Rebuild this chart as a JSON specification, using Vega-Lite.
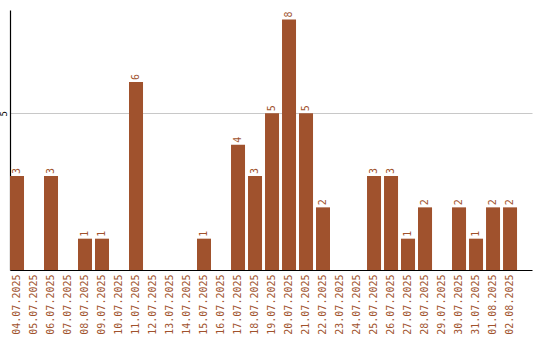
{
  "$schema": "https://vega.github.io/schema/vega-lite/v6.json",
  "width": 522,
  "height": 260,
  "autosize": {"type": "none"},
  "padding": {"left": 10, "top": 10, "right": 8, "bottom": 70},
  "background": "white",
  "config": {"view": {"stroke": null}},
  "data": {"values": [
    {"d": "04.07.2025", "v": 3},
    {"d": "05.07.2025", "v": 0},
    {"d": "06.07.2025", "v": 3},
    {"d": "07.07.2025", "v": 0},
    {"d": "08.07.2025", "v": 1},
    {"d": "09.07.2025", "v": 1},
    {"d": "10.07.2025", "v": 0},
    {"d": "11.07.2025", "v": 6},
    {"d": "12.07.2025", "v": 0},
    {"d": "13.07.2025", "v": 0},
    {"d": "14.07.2025", "v": 0},
    {"d": "15.07.2025", "v": 1},
    {"d": "16.07.2025", "v": 0},
    {"d": "17.07.2025", "v": 4},
    {"d": "18.07.2025", "v": 3},
    {"d": "19.07.2025", "v": 5},
    {"d": "20.07.2025", "v": 8},
    {"d": "21.07.2025", "v": 5},
    {"d": "22.07.2025", "v": 2},
    {"d": "23.07.2025", "v": 0},
    {"d": "24.07.2025", "v": 0},
    {"d": "25.07.2025", "v": 3},
    {"d": "26.07.2025", "v": 3},
    {"d": "27.07.2025", "v": 1},
    {"d": "28.07.2025", "v": 2},
    {"d": "29.07.2025", "v": 0},
    {"d": "30.07.2025", "v": 2},
    {"d": "31.07.2025", "v": 1},
    {"d": "01.08.2025", "v": 2},
    {"d": "02.08.2025", "v": 2}
  ]},
  "encoding": {
    "x": {"field": "d", "type": "nominal", "sort": null,
      "scale": {"paddingInner": 0.176, "paddingOuter": 0.44, "align": 0},
      "axis": {"title": null, "labelAngle": -90, "labelAlign": "right", "labelBaseline": "middle",
        "labelFont": "DejaVu Sans Mono", "labelFontSize": 10, "labelColor": "#a0522d",
        "ticks": false, "labelPadding": 4, "domainColor": "black", "domainWidth": 1.2, "grid": false}},
    "y": {"field": "v", "type": "quantitative",
      "scale": {"domain": [0, 8.3], "nice": false},
      "axis": {"title": null, "values": [5], "ticks": false, "labelAngle": -90, "labelAlign": "center",
        "labelBaseline": "bottom", "labelPadding": 2, "labelFont": "DejaVu Sans Mono", "labelFontSize": 9,
        "labelColor": "black", "domainColor": "black", "domainWidth": 1.2,
        "grid": true, "gridColor": "#c8c8c8", "gridWidth": 1}}
  },
  "layer": [
    {"mark": {"type": "bar", "color": "#a0522d"}},
    {"transform": [{"filter": "datum.v > 0"}],
     "mark": {"type": "text", "angle": -90, "align": "left", "baseline": "middle", "dx": 2,
       "font": "DejaVu Sans Mono", "fontSize": 10, "color": "#a0522d"},
     "encoding": {"text": {"field": "v", "type": "quantitative"}}}
  ]
}
